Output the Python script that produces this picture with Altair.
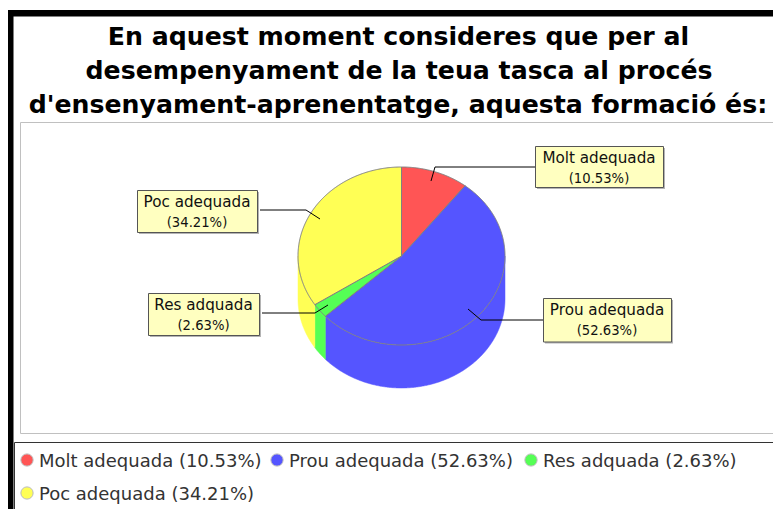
import math
import altair as alt
import pandas as pd

# ---- chart content
title_lines = [
    "En aquest moment consideres que per al",
    "desempenyament de la teua tasca al procés",
    "d'ensenyament-aprenentatge, aquesta formació és:",
]
categories = ["Molt adequada", "Prou adequada", "Res adquada", "Poc adequada"]
shares = [10.53, 52.63, 2.63, 34.21]
colors = ["#FF5555", "#5555FF", "#55FF55", "#FFFF55"]

# ---- layout (page pixels)
W, H = 781, 509
VW = 773  # right edge of the drawing, page pixels
CX, CY, RX, RY, DEPTH = 401.5, 256, 103.5, 89, 43
FONT = "DejaVu Sans"

x_enc = alt.X("x:Q", scale=alt.Scale(domain=[8, VW]), axis=None)
y_enc = alt.Y("y:Q", scale=alt.Scale(domain=[H, 8]), axis=None)


def box(x0, x1, y0, y1, **style):
    d = pd.DataFrame({"x": [x0], "x2": [x1], "y": [y0], "y2": [y1]})
    return alt.Chart(d).mark_rect(**style).encode(x=x_enc, x2="x2:Q", y=y_enc, y2="y2:Q")


def pt(deg, dy=0):
    a = math.radians(deg)
    return CX + RX * math.sin(a), CY - RY * math.cos(a) + dy


def polygon(points, color, stroke, width=1):
    d = pd.DataFrame([{"x": p[0], "y": p[1], "i": i} for i, p in enumerate(points)])
    return alt.Chart(d).mark_line(fill=color, stroke=stroke, strokeWidth=width, interpolate="linear").encode(
        x=x_enc, y=y_enc, order="i:Q"
    )


def path(points, color="#000000", width=1):
    d = pd.DataFrame([{"x": p[0], "y": p[1], "i": i} for i, p in enumerate(points)])
    return alt.Chart(d).mark_line(stroke=color, strokeWidth=width).encode(x=x_enc, y=y_enc, order="i:Q")


def text(x, y, s, **style):
    d = pd.DataFrame({"x": [x], "y": [y], "t": [s]})
    return alt.Chart(d).mark_text(font=FONT, baseline="alphabetic", **style).encode(x=x_enc, y=y_enc, text="t:N")


layers = []

# frame
layers.append(box(0, W + 10, 10, 16.5, fill="#000000"))
layers.append(box(6, 13.5, 10, H + 10, fill="#000000"))
layers.append(box(20.5, W + 20, 122.5, 433.5, fill="#FFFFFF", stroke="#C0C0C0", strokeWidth=1))
layers.append(box(14.5, W + 20, 442.5, H + 20, fill="#FFFFFF", stroke="#333333", strokeWidth=1))

# title
for line, yy, xx in zip(title_lines, [45, 79, 113], [398.5, 399, 398]):
    layers.append(text(xx, yy, line, fontSize=25.2, fontWeight="bold", color="#000000", align="center"))

# pie: slice angles come from the shares
total = sum(shares)
bounds = [0.0]
for s in shares:
    bounds.append(bounds[-1] + 360.0 * s / total)

# side wall (front half of the cylinder)
for k, c in enumerate(colors):
    a0, a1 = max(bounds[k], 90), min(bounds[k + 1], 270)
    if a1 <= a0:
        continue
    n = max(2, int((a1 - a0) * 2))
    arc = [a0 + (a1 - a0) * j / n for j in range(n + 1)]
    pts = [pt(a) for a in arc] + [pt(a, DEPTH) for a in reversed(arc)]
    pts.append(pts[0])
    layers.append(polygon(pts, c, c, 0.5))

# top face
for k, c in enumerate(colors):
    a0, a1 = bounds[k], bounds[k + 1]
    n = max(2, int((a1 - a0) * 2))
    pts = [(CX, CY)] + [pt(a0 + (a1 - a0) * j / n) for j in range(n + 1)] + [(CX, CY)]
    layers.append(polygon(pts, c, "#808080", 1))

# callouts
callouts = [
    (535, 663, 146, 187, [(535, 167), (435, 167), (431, 181)]),
    (543, 671, 298, 341.5, [(543, 320), (481, 320), (468, 309)]),
    (148, 259, 293, 335, [(262, 313), (315, 313), (328, 305)]),
    (137, 257, 190, 232, [(260, 210), (306, 210), (320, 219)]),
]
for k, (x0, x1, y0, y1, link) in enumerate(callouts):
    layers.append(path(link))
    layers.append(box(x0 + 2, x1 + 2, y0 + 2, y1 + 2, fill="#B4B4B4"))
    layers.append(box(x0 + .5, x1 + .5, y0 + .5, y1 + .5, fill="#FFFFC0", stroke="#555555", strokeWidth=1))
    mid = (x0 + x1) / 2
    layers.append(text(mid, y0 + 17, categories[k], fontSize=15.2, color="#111111", align="center"))
    layers.append(text(mid, y0 + 37, f"({shares[k]:.2f}%)", fontSize=13.2, color="#111111", align="center"))

# legend
legend_pos = [(27, 460), (277, 460), (531, 460), (27, 493)]
for k, (lx, ly) in enumerate(legend_pos):
    d = pd.DataFrame({"x": [lx], "y": [ly]})
    layers.append(alt.Chart(d).mark_point(filled=True, size=150, fill=colors[k], stroke="#BBBBBB", strokeWidth=1, opacity=1).encode(x=x_enc, y=y_enc))
    layers.append(text(lx + 12, ly + 7, f"{categories[k]} ({shares[k]:.2f}%)", fontSize=18, color="#333333", align="left"))

chart = alt.layer(*layers).properties(
    width=VW - 8, height=H - 8, padding=0, autosize=alt.AutoSizeParams(type="none"), background="#FFFFFF"
).configure_view(stroke=None)

chart.save("out.html", embed_options={"renderer": "svg", "actions": False})
